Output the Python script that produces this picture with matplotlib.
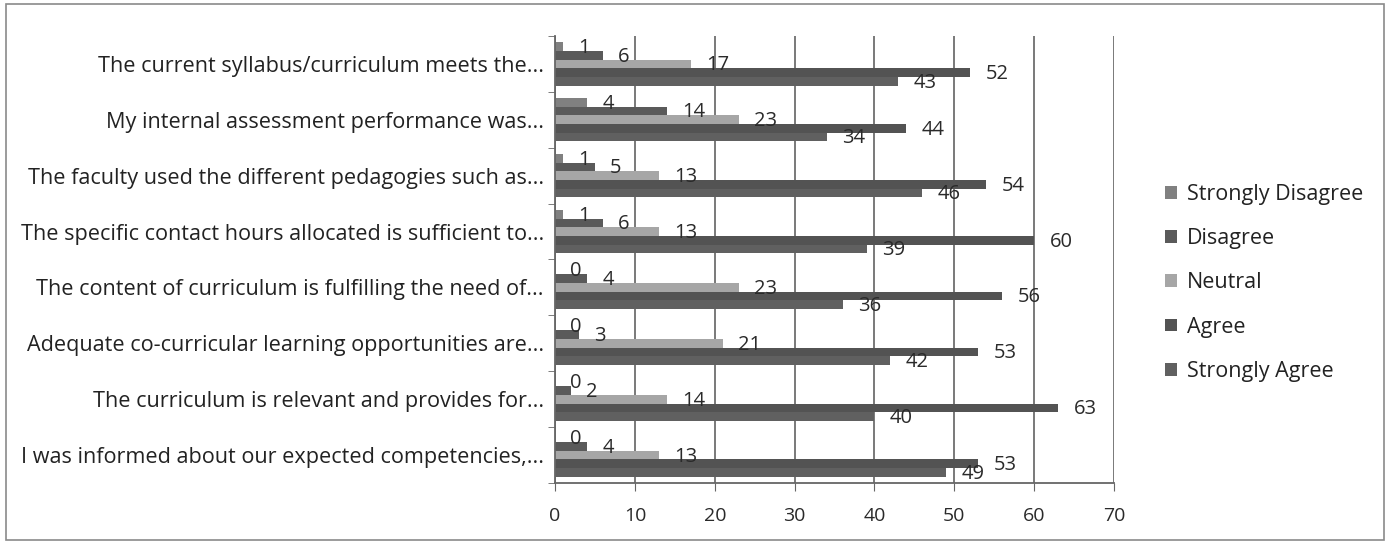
import numpy as np
import matplotlib.pyplot as plt
from matplotlib.patches import Rectangle

plt.rcParams['font.family'] = ['Open Sans', 'DejaVu Sans']

questions = [
    "The current syllabus/curriculum meets the...",
    "My internal assessment performance was...",
    "The faculty used the different pedagogies such as...",
    "The specific contact hours allocated is sufficient to...",
    "The content of curriculum is fulfilling the need of...",
    "Adequate co-curricular learning opportunities are...",
    "The curriculum is relevant and provides for...",
    "I was informed about our expected competencies,...",
]
strongly_disagree = [1, 4, 1, 1, 0, 0, 0, 0]
disagree = [6, 14, 5, 6, 4, 3, 2, 4]
neutral = [17, 23, 13, 13, 23, 21, 14, 13]
agree = [52, 44, 54, 60, 56, 53, 63, 53]
strongly_agree = [43, 34, 46, 39, 36, 42, 40, 49]

series = [
    ("Strongly Disagree", strongly_disagree, "#808080"),
    ("Disagree", disagree, "#5a5a5a"),
    ("Neutral", neutral, "#a6a6a6"),
    ("Agree", agree, "#535353"),
    ("Strongly Agree", strongly_agree, "#606060"),
]

fig = plt.figure(figsize=(13.9, 5.44), dpi=100)
ax = fig.add_axes([0.3993, 0.112, 0.4022, 0.822])

n = len(questions)
bar_h = 0.155
y_base = np.arange(n)[::-1]  # first question on top
for i, (name, vals, color) in enumerate(series):
    y = y_base + 2.5 * bar_h - bar_h / 2 - i * bar_h
    ax.barh(y, vals, height=bar_h, color=color, label=name, zorder=2)
    for yy, v in zip(y, vals):
        ax.annotate(str(v), (v, yy), xytext=(11, -1), textcoords='offset points',
                    va='center', ha='left', fontsize=14.5, color='#2a2a2a', zorder=3)

ax.set_xlim(0, 70)
ax.set_ylim(-0.5, n - 0.5)
ax.set_xticks(range(0, 71, 10))
ax.tick_params(axis='x', labelsize=14, length=6, color='#666666', pad=11,
               labelcolor='#2a2a2a')
ax.set_yticks(np.arange(n))
ax.set_yticklabels(questions[::-1], fontsize=15.6, color='#222222')
ax.set_yticks(np.arange(-0.5, n), minor=True)
ax.tick_params(axis='y', which='major', length=0, pad=8)
ax.tick_params(axis='y', which='minor', length=5, color='#666666')
ax.grid(axis='x', color='#6e6e6e', linewidth=1.3, zorder=0)
for s in ['top', 'right']:
    ax.spines[s].set_visible(False)
for s in ['left', 'bottom']:
    ax.spines[s].set_color('#666666')
    ax.spines[s].set_linewidth(1.3)

leg = fig.legend(loc='center left', bbox_to_anchor=(0.824, 0.48), frameon=False,
                 fontsize=15.5, handlelength=0.55, handleheight=0.55,
                 labelspacing=1.08, handletextpad=0.5)
for t in leg.get_texts():
    t.set_color('#222222')

fig.add_artist(Rectangle((0.004, 0.008), 0.992, 0.984, transform=fig.transFigure,
                         fill=False, edgecolor='#8a8a8a', linewidth=1.2))

fig.savefig("out.png", dpi=100)
